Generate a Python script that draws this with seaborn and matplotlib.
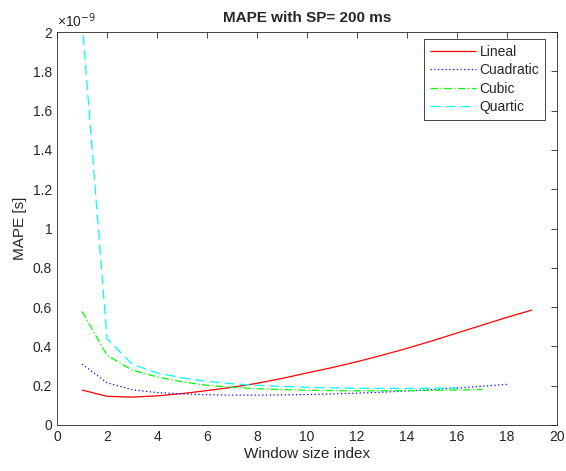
import matplotlib
matplotlib.use("Agg")
import matplotlib.pyplot as plt
import seaborn as sns
import pandas as pd
import numpy as np
from matplotlib.ticker import FuncFormatter, MultipleLocator

sns.set_style("white")
plt.rcParams['font.family'] = ['Liberation Sans', 'DejaVu Sans']

# values in units of 1e-9 s
x_lineal = list(range(1, 20))
lineal = [0.178, 0.146, 0.142, 0.148, 0.160, 0.175, 0.192, 0.212, 0.237, 0.265,
          0.292, 0.322, 0.355, 0.39, 0.428, 0.468, 0.508, 0.548, 0.585]
x_cuad = list(range(1, 19))
cuadratic = [0.31, 0.215, 0.18, 0.165, 0.158, 0.154, 0.152, 0.152, 0.153, 0.155,
             0.158, 0.162, 0.167, 0.173, 0.180, 0.188, 0.197, 0.207]
x_cubic = list(range(1, 18))
cubic = [0.578, 0.355, 0.28, 0.245, 0.22, 0.202, 0.192, 0.185, 0.18, 0.177,
         0.175, 0.174, 0.174, 0.175, 0.176, 0.178, 0.181]
x_quart = list(range(1, 17))
quartic = [2.06, 0.44, 0.31, 0.265, 0.24, 0.222, 0.21, 0.202, 0.196, 0.192,
           0.189, 0.187, 0.186, 0.186, 0.187, 0.189]

series = [("Lineal", x_lineal, lineal, "#ff0000", (0, ())),
          ("Cuadratic", x_cuad, cuadratic, "#0000ff", (0, (1, 2))),
          ("Cubic", x_cubic, cubic, "#00ff00", (0, (6, 2, 1, 2))),
          ("Quartic", x_quart, quartic, "#00ffff", (0, (8, 4)))]

fig = plt.figure(figsize=(5.66, 4.71), dpi=100)
ax = fig.add_axes([57/566, 1-425/471, 500/566, 393/471])

for name, xs, ys, col, ls in series:
    df = pd.DataFrame({"x": xs, "y": np.array(ys) * 1e-9})
    sns.lineplot(data=df, x="x", y="y", ax=ax, color=col, linestyle=ls,
                 linewidth=0.9, label=name)

ax.set_xlim(0, 20)
ax.set_ylim(0, 2e-9)
ax.xaxis.set_major_locator(MultipleLocator(2))
ax.yaxis.set_major_locator(MultipleLocator(0.2e-9))
ax.yaxis.set_major_formatter(FuncFormatter(lambda v, p: f"{v/1e-9:g}"))
ax.xaxis.get_offset_text().set_visible(False)
ax.yaxis.get_offset_text().set_visible(False)
ax.tick_params(direction="in", length=4, width=0.6, colors="#262626",
               labelsize=10, top=True, right=True, labelcolor="#262626")
for s in ax.spines.values():
    s.set_color("#262626")
    s.set_linewidth(0.6)
ax.set_xlabel("Window size index", fontsize=11, color="#262626", labelpad=2)
ax.set_ylabel("MAPE [s]", fontsize=11, color="#262626", labelpad=4)
ax.set_title("MAPE with SP= 200 ms", fontsize=11, fontweight="bold", pad=7)
ax.text(0.0, 1.006, "\u00d710$^{-9}$", transform=ax.transAxes, fontsize=10,
        color="#262626", ha="left", va="bottom")

leg = ax.legend(loc="upper right", bbox_to_anchor=(0.976, 0.982), fontsize=10,
                frameon=True, fancybox=False, framealpha=1, edgecolor="#262626",
                handlelength=3.3, handletextpad=0.3, borderpad=0.4,
                labelspacing=0.32, borderaxespad=0)
leg.get_frame().set_linewidth(0.6)

fig.savefig("out.png", dpi=100)
